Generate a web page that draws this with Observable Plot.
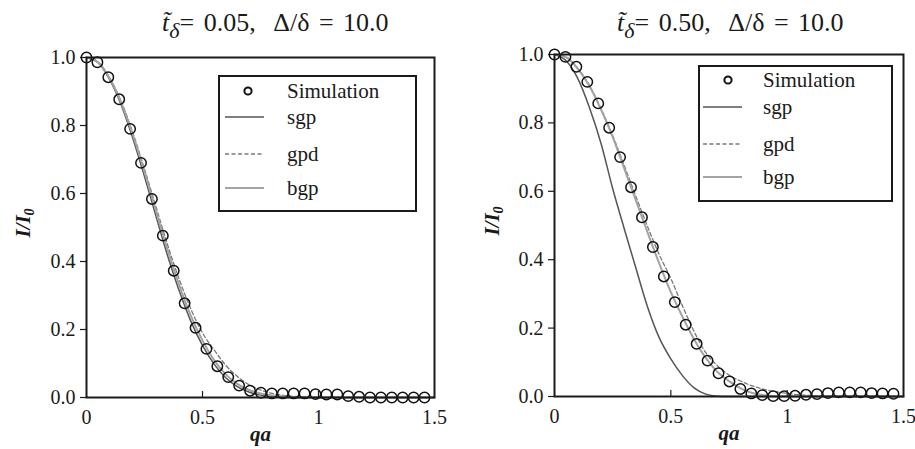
<!DOCTYPE html>
<html>
<head>
<meta charset="utf-8">
<script src="https://cdn.jsdelivr.net/npm/d3@7"></script>
<script src="https://cdn.jsdelivr.net/npm/@observablehq/plot@0.6"></script>
<style>
  html, body { margin: 0; padding: 0; background: #fff; }
  body, div, svg, text, span, sub { font-family: 'Liberation Serif', 'Times New Roman', serif; }
  #wrap { position: relative; width: 915px; height: 449px; overflow: hidden; color: #1a1a1a; }
  .panel { position: absolute; top: 0; }
  .title { position: absolute; font-size: 26px; line-height: 26px; white-space: pre; word-spacing: 3px; color: #1a1a1a; }
  .title .tt { font-style: italic; }
  .title sub { font-style: italic; font-size: 22px; vertical-align: -7px; line-height: 0; }
  .ylab { position: absolute; transform: translate(-50%, -50%) rotate(-90deg); font-weight: bold; font-style: italic; font-size: 21px; white-space: nowrap; line-height: 21px; }
  .ylab sub { font-size: 14px; vertical-align: -4px; line-height: 0; }
  .legend { position: absolute; }
</style>
</head>
<body>
<div id="wrap"></div>
<script>
// ---------- data ----------
const qaSim = [0, 0.047, 0.094, 0.141, 0.188, 0.235, 0.282, 0.329, 0.376, 0.423, 0.470, 0.517, 0.564, 0.611, 0.658, 0.705,
               0.752, 0.799, 0.846, 0.893, 0.940, 0.987, 1.034, 1.081, 1.128, 1.175, 1.222, 1.269, 1.316, 1.363, 1.410, 1.457];
const simLeft = [1.0, 0.986, 0.942, 0.877, 0.79, 0.69, 0.584, 0.476, 0.373, 0.277, 0.205, 0.143, 0.092, 0.06, 0.035,
                 0.02, 0.014, 0.012, 0.012, 0.012, 0.012, 0.01, 0.009, 0.009, 0.004, 0.002, 0, 0, 0, 0, 0, 0];
const simRight = [1.0, 0.993, 0.964, 0.92, 0.857, 0.786, 0.70, 0.612, 0.524, 0.437, 0.351, 0.276, 0.21, 0.154, 0.105, 0.068, 0.044, 0.022,
                  0.009, 0.004, 0.001, 0.001, 0.002, 0.005, 0.007, 0.010, 0.012, 0.012, 0.012, 0.010, 0.009, 0.008];

const qaCurve = [0, 0.05, 0.1, 0.15, 0.2, 0.25, 0.3, 0.35, 0.4, 0.45, 0.5, 0.55, 0.6, 0.65, 0.7, 0.75,
                 0.8, 0.85, 0.9, 0.95, 1.0, 1.05, 1.1, 1.15, 1.2, 1.25, 1.3, 1.35, 1.4, 1.45, 1.5];
const sgpLeft = [1.0, 0.985, 0.935, 0.86, 0.762, 0.65, 0.532, 0.416, 0.313, 0.224, 0.153, 0.098, 0.058, 0.032, 0.016, 0.007,
                 0.003, 0.001, 0, 0, 0, 0, 0, 0, 0, 0, 0, 0, 0, 0, 0];
const gpdLeft = [1.0, 0.986, 0.94, 0.87, 0.778, 0.672, 0.56, 0.448, 0.347, 0.26, 0.19, 0.14, 0.095, 0.062, 0.038, 0.022,
                 0.012, 0.006, 0.003, 0.001, 0, 0, 0, 0, 0, 0, 0, 0, 0, 0, 0];
const bgpLeft = [1.0, 0.986, 0.938, 0.866, 0.772, 0.664, 0.548, 0.433, 0.33, 0.24, 0.168, 0.11, 0.068, 0.04, 0.022, 0.012,
                 0.006, 0.003, 0.001, 0, 0, 0, 0, 0, 0, 0, 0, 0, 0, 0, 0];
const sgpRight = [1.0, 0.982, 0.93, 0.845, 0.74, 0.608, 0.49, 0.375, 0.262, 0.172, 0.11, 0.061, 0.025, 0.007, 0.001, 0,
                  0, 0, 0, 0, 0, 0, 0, 0, 0, 0, 0, 0, 0, 0, 0];
const gpdRight = [1.0, 0.992, 0.96, 0.91, 0.842, 0.763, 0.675, 0.585, 0.497, 0.415, 0.345, 0.265, 0.19, 0.128, 0.09, 0.063,
                  0.045, 0.031, 0.021, 0.014, 0.009, 0.005, 0.003, 0.001, 0, 0, 0, 0, 0, 0, 0];
const bgpRight = [1.0, 0.992, 0.958, 0.908, 0.839, 0.759, 0.666, 0.573, 0.48, 0.389, 0.305, 0.233, 0.167, 0.113, 0.072, 0.045,
                  0.024, 0.01, 0.004, 0.001, 0, 0, 0, 0, 0, 0, 0, 0, 0, 0, 0];

const xTicks = [0, 0.5, 1, 1.5];
const yTicks = [0, 0.2, 0.4, 0.6, 0.8, 1.0];
const seriesNames = ["Simulation", "sgp", "gpd", "bgp"];
const titleLeft = {t: "0.05", ratio: "10.0"};
const titleRight = {t: "0.50", ratio: "10.0"};
const xLabel = "qa";

// ---------- styles ----------
const FONT = "'Liberation Serif', 'Times New Roman', serif";
const C = {sim: "#111", sgp: "#555", gpd: "#7a7a7a", bgp: "#a3a3a3", axis: "#1a1a1a"};
const styleOf = {
  sgp: {stroke: C.sgp, strokeWidth: 1.5},
  gpd: {stroke: C.gpd, strokeWidth: 1.3, strokeDasharray: "4,2.5"},
  bgp: {stroke: C.bgp, strokeWidth: 2}
};

function panel({sim, sgp, gpd, bgp, width, mL, mR, mT, mB}) {
  const innerH = 449 - mT - mB;
  const simData = qaSim.map((q, i) => ({q, v: sim[i]}));
  const mk = arr => qaCurve.map((q, i) => ({q, v: arr[i]}));
  const svg = Plot.plot({
    width, height: 449,
    marginLeft: mL, marginRight: mR, marginTop: mT, marginBottom: mB,
    style: {fontFamily: FONT, fontSize: "20px", color: C.axis, background: "transparent", overflow: "visible"},
    x: {domain: [0, 1.5]},
    y: {domain: [0, 1]},
    marks: [
      Plot.line(mk(sgp), {x: "q", y: "v", curve: "monotone-x", ...styleOf.sgp}),
      Plot.line(mk(gpd), {x: "q", y: "v", curve: "monotone-x", ...styleOf.gpd}),
      Plot.line(mk(bgp), {x: "q", y: "v", curve: "monotone-x", ...styleOf.bgp}),
      Plot.dot(simData, {x: "q", y: "v", r: 5.2, stroke: C.sim, strokeWidth: 1.5, fill: "none"}),
      Plot.frame({stroke: C.axis, strokeWidth: 2}),
      Plot.axisY({ticks: yTicks, tickFormat: d3.format(".1f"), tickSize: 6, tickPadding: 5, label: null, stroke: C.axis, strokeWidth: 1.2, fontFamily: FONT, fontSize: 20}),
      Plot.axisX({ticks: xTicks, tickFormat: d => `${d}`, tickSize: 0, tickPadding: 12, label: null, fontFamily: FONT, fontSize: 20}),
      Plot.ruleX(xTicks.slice(1, 3), {insetTop: innerH - 6, stroke: C.axis, strokeWidth: 1.2}),
      Plot.text([xLabel], {frameAnchor: "bottom", dy: 43, text: d => d, fontFamily: FONT, fontWeight: "bold", fontStyle: "italic", fontSize: 21, fill: C.axis})
    ]
  });
  svg.setAttribute("font-family", FONT);
  svg.style.fontFamily = FONT;
  return svg;
}

const wrap = document.getElementById("wrap");

function place(el, left) {
  el.classList.add("panel");
  el.style.left = left + "px";
  wrap.appendChild(el);
}

place(panel({sim: simLeft, sgp: sgpLeft, gpd: gpdLeft, bgp: bgpLeft, width: 457, mL: 86, mR: 23, mT: 57, mB: 52}), 0);
place(panel({sim: simRight, sgp: sgpRight, gpd: gpdRight, bgp: bgpRight, width: 458, mL: 97, mR: 12, mT: 54, mB: 53}), 457);

// titles
function addTitle(info, left, top) {
  const d = document.createElement("div");
  d.className = "title";
  d.style.left = left + "px";
  d.style.top = top + "px";
  d.style.fontFamily = FONT;
  d.innerHTML = `<span class="tt">t\u0303</span><sub>δ</sub>= ${info.t},  Δ/δ = ${info.ratio}`;
  wrap.appendChild(d);
}
addTitle(titleLeft, 162, 10);
addTitle(titleRight, 617, 10);

// y labels
function addYLab(cx, cy) {
  const d = document.createElement("div");
  d.className = "ylab";
  d.style.left = cx + "px";
  d.style.top = cy + "px";
  d.style.fontFamily = FONT;
  d.innerHTML = "I/I<sub>0</sub>";
  wrap.appendChild(d);
}
addYLab(23, 223);
addYLab(492, 221);

// legends
function addLegend(left, top, w, h, rows) {
  const ns = "http://www.w3.org/2000/svg";
  const svg = document.createElementNS(ns, "svg");
  svg.setAttribute("width", w);
  svg.setAttribute("height", h);
  svg.setAttribute("class", "legend");
  svg.style.left = left + "px";
  svg.style.top = top + "px";
  svg.setAttribute("font-family", FONT);
  svg.setAttribute("font-size", 21);
  const box = document.createElementNS(ns, "rect");
  box.setAttribute("x", 1); box.setAttribute("y", 1);
  box.setAttribute("width", w - 2); box.setAttribute("height", h - 2);
  box.setAttribute("fill", "#fff"); box.setAttribute("stroke", C.axis); box.setAttribute("stroke-width", 2);
  svg.appendChild(box);
  seriesNames.forEach((name, i) => {
    const y = rows.ys[i];
    if (name === "Simulation") {
      const c = document.createElementNS(ns, "circle");
      c.setAttribute("cx", rows.cx); c.setAttribute("cy", y); c.setAttribute("r", 3.6);
      c.setAttribute("fill", "none"); c.setAttribute("stroke", C.sim); c.setAttribute("stroke-width", 2);
      svg.appendChild(c);
    } else {
      const s = styleOf[name];
      const l = document.createElementNS(ns, "line");
      l.setAttribute("x1", rows.x1); l.setAttribute("x2", rows.x2);
      l.setAttribute("y1", y); l.setAttribute("y2", y);
      l.setAttribute("stroke", s.stroke); l.setAttribute("stroke-width", s.strokeWidth);
      if (s.strokeDasharray) l.setAttribute("stroke-dasharray", s.strokeDasharray);
      svg.appendChild(l);
    }
    const t = document.createElementNS(ns, "text");
    t.setAttribute("x", rows.tx); t.setAttribute("y", y + 7);
    t.setAttribute("fill", C.axis);
    t.setAttribute("font-family", FONT);
    t.textContent = name;
    svg.appendChild(t);
  });
  wrap.appendChild(svg);
}
addLegend(218, 75, 199, 137, {cx: 30, x1: 7, x2: 46, tx: 69, ys: [16, 42, 79, 113]});
addLegend(698, 65, 195, 137, {cx: 30, x1: 5, x2: 44, tx: 65, ys: [15, 42, 79, 112]});
</script>
</body>
</html>
